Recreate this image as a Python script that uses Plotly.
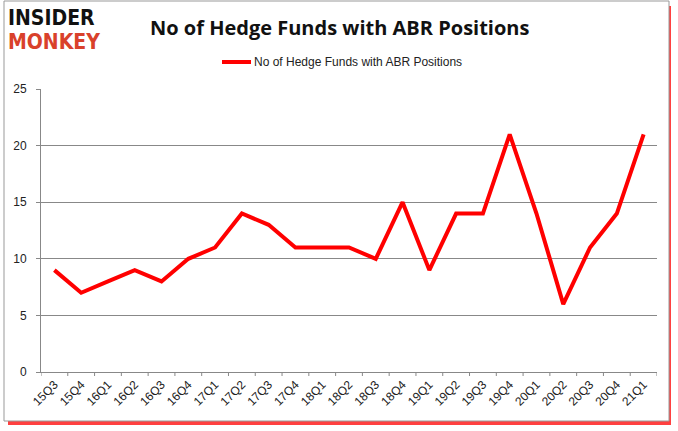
import plotly.graph_objects as go

quarters = ["15Q3","15Q4","16Q1","16Q2","16Q3","16Q4","17Q1","17Q2","17Q3","17Q4",
            "18Q1","18Q2","18Q3","18Q4","19Q1","19Q2","19Q3","19Q4","20Q1","20Q2",
            "20Q3","20Q4","21Q1"]
funds = [9,7,8,9,8,10,11,14,13,11,11,11,10,15,9,14,14,21,14,6,11,14,21]
series_name = "No of Hedge Funds with ABR Positions"
title_text = "No of Hedge Funds with ABR Positions"

W, H = 678, 431
L, R, T, B = 41, 657, 89, 372

def px(x):
    return (x - L) / (R - L)

def py(y):
    return (B - y) / (B - T)

fig = go.Figure()
fig.add_trace(go.Scatter(
    x=list(range(len(quarters))), y=funds, mode="lines", name=series_name,
    line=dict(color="#ff0000", width=4), showlegend=False, hoverinfo="skip",
))

# Legend (manual)
fig.add_shape(type="line", xref="paper", yref="paper",
              x0=px(222), x1=px(251), y0=py(62), y1=py(62),
              line=dict(color="#ff0000", width=4))
fig.add_annotation(text=series_name, xref="paper", yref="paper",
                   x=px(252), y=py(62), xanchor="left", yanchor="middle",
                   showarrow=False, font=dict(family="Liberation Sans", size=12, color="#222"))

# Title
fig.add_annotation(text="<b>" + title_text + "</b>", xref="paper", yref="paper",
                   x=px(339), y=py(27), xanchor="center", yanchor="middle",
                   showarrow=False, font=dict(family="Open Sans", size=20, color="#111"))

# Logo
fig.add_annotation(text="<b>INSIDER</b>", xref="paper", yref="paper",
                   x=px(6), y=py(18), xanchor="left", yanchor="middle",
                   showarrow=False, font=dict(family="DejaVu Sans Condensed", size=21, color="#111"))
fig.add_annotation(text="<b>MONKEY</b>", xref="paper", yref="paper",
                   x=px(6), y=py(42), xanchor="left", yanchor="middle",
                   showarrow=False, font=dict(family="DejaVu Sans Condensed", size=21, color="#d9412b"))

# Border and red shadow
fig.add_shape(type="rect", xref="paper", yref="paper", layer="below",
              x0=px(8), x1=px(671), y0=py(425), y1=py(6),
              line=dict(width=0), fillcolor="rgba(255,0,0,0.75)")
fig.add_shape(type="rect", xref="paper", yref="paper", layer="below",
              x0=px(4), x1=px(669), y0=py(421), y1=py(1),
              line=dict(color="#999", width=1), fillcolor="white")

fig.update_layout(
    width=W, height=H,
    margin=dict(l=L, r=W - R, t=T, b=H - B),
    paper_bgcolor="white", plot_bgcolor="white",
    showlegend=False,
    xaxis=dict(
        tickmode="array", tickvals=list(range(len(quarters))), ticktext=quarters,
        range=[-0.5, len(quarters) - 0.5], tickangle=-45,
        showgrid=False, showline=True, linecolor="#888", linewidth=1,
        ticks="", zeroline=False, automargin=False,
        tickfont=dict(family="Liberation Sans", size=12, color="#222"),
    ),
    yaxis=dict(
        range=[0, 25], tickvals=[0, 5, 10, 15, 20, 25],
        showgrid=True, gridcolor="#888", gridwidth=1,
        showline=True, linecolor="#888", linewidth=1, zeroline=False,
        ticks="outside", ticklen=4, tickcolor="#888", ticklabelstandoff=7,
        automargin=False,
        tickfont=dict(family="Liberation Sans", size=12, color="#222"),
    ),
)

# boundary tick marks for categories (Excel-style, between categories)
for i in range(len(quarters) + 1):
    fig.add_shape(type="line", xref="x", yref="paper",
                  x0=i - 0.5, x1=i - 0.5, y0=0, y1=-4 / (B - T),
                  line=dict(color="#888", width=1))

fig.write_html("out.html", config={"displayModeBar": False},
               post_script="document.body.style.margin='0';")
